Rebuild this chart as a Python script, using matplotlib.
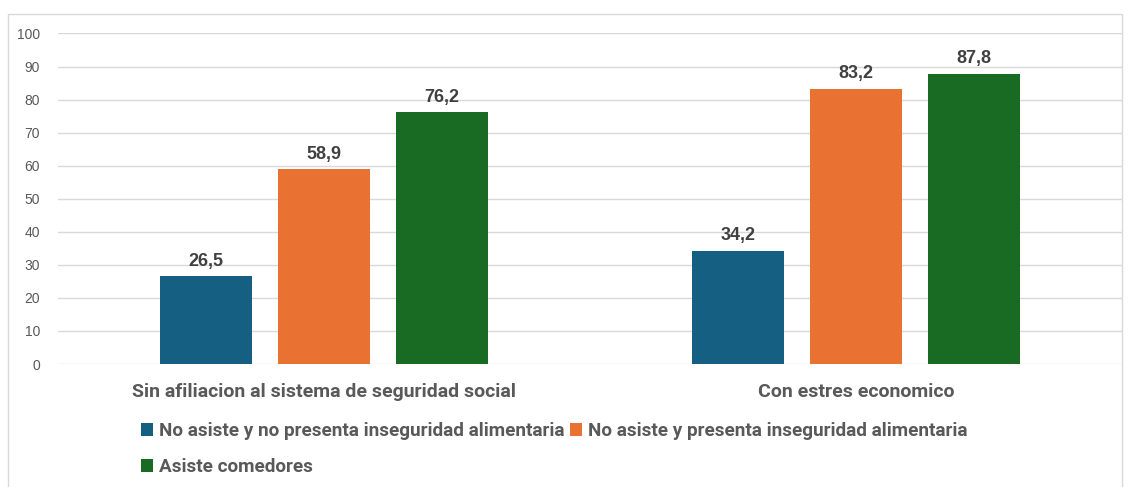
import matplotlib
matplotlib.use("Agg")
import matplotlib.pyplot as plt
import numpy as np
from matplotlib.patches import Rectangle
from matplotlib.font_manager import FontProperties

categories = ["Sin afiliacion al sistema de seguridad social", "Con estres economico"]
series_names = ["No asiste y no presenta inseguridad alimentaria",
                "No asiste y presenta inseguridad alimentaria",
                "Asiste comedores"]
values = [
    [26.5, 34.2],
    [58.9, 83.2],
    [76.2, 87.8],
]
colors = ["#156082", "#E97132", "#196B24"]
yticks = [0, 10, 20, 30, 40, 50, 60, 70, 80, 90, 100]

W, H = 1130, 487
fig = plt.figure(figsize=(W/100, H/100), dpi=100)
narrow = ["Liberation Sans Narrow", "Roboto", "DejaVu Sans"]
legfp = FontProperties(family=narrow, weight="bold", size=13.6)
catfp = FontProperties(family=narrow, weight="bold", size=14)

# chart border
fig.patches.append(Rectangle((8/W, -0.01), (1122-8)/W, 1 - 14/H + 0.01, transform=fig.transFigure,
                             fill=False, edgecolor="#D9D9D9", linewidth=1.0))

ax = fig.add_axes([58/W, 1-364/H, (1122-58)/W, (364-33.5)/H])
x = np.arange(len(categories))
bw = 92/532
step = 118/532
for i, (name, vals) in enumerate(zip(series_names, values)):
    pos = x + (i-1)*step
    ax.bar(pos, vals, width=bw, color=colors[i], label=name, zorder=3)
    for p, v in zip(pos, vals):
        ax.text(p, v + 2.0, f"{v:.1f}".replace(".", ","), ha="center", va="bottom",
                fontsize=13, fontweight="bold", color="#404040", family=["Liberation Sans", "DejaVu Sans"])

ax.set_xlim(-0.5, 1.5)
ax.set_ylim(0, 100)
ax.set_yticks(yticks)
ax.set_yticklabels([str(t) for t in yticks], fontsize=10, color="#595959",
                   family=["Liberation Sans", "DejaVu Sans"])
ax.yaxis.grid(True, color="#D9D9D9", linewidth=1, zorder=0)
ax.tick_params(axis="y", length=0, pad=13)
ax.tick_params(axis="x", length=0, pad=14)
ax.set_xticks(x)
ax.set_xticklabels(categories, color="#595959")
for t in ax.get_xticklabels():
    t.set_fontproperties(catfp)
for s in ax.spines.values():
    s.set_visible(False)

handles, labels = ax.get_legend_handles_labels()
order = [0, 2, 1]
leg = fig.legend([handles[k] for k in order], [labels[k] for k in order], ncol=2,
                 loc="upper left", bbox_to_anchor=(141/W, 1-422/H), frameon=False,
                 prop=legfp,
                 handlelength=0.65, handleheight=0.65, handletextpad=0.3,
                 columnspacing=0.3, labelspacing=0.95, borderpad=0, borderaxespad=0)
for t in leg.get_texts():
    t.set_color("#595959")

fig.savefig("out.png", dpi=100)
